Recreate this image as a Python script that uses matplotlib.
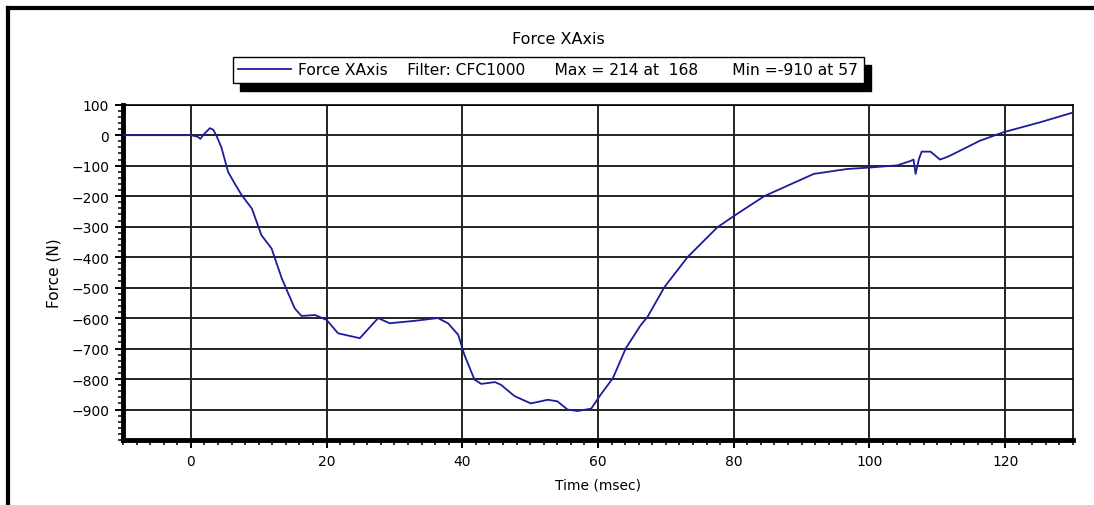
import matplotlib.pyplot as plt
from matplotlib.lines import Line2D
from matplotlib.ticker import MultipleLocator

# force trace (time in msec, force in N)
time_ms = [-10, 0, 1.0, 1.4, 2.0, 2.8, 3.3, 3.8, 4.5, 5.5, 6.5, 7.5, 9.0, 10.4, 11.9,
           13.4, 15.3, 16.3, 18.3, 20.0, 21.7, 24.9, 27.6, 29.3, 33.0, 36.4, 37.9,
           39.4, 40.3, 41.8, 42.8, 44.8, 45.7, 47.7, 50.1, 52.6, 54.0, 55.5, 57.0,
           59.0, 60.4, 62.2, 64.1, 66.3, 67.3, 69.8, 73.2, 77.6, 80.1, 84.5, 91.8,
           96.7, 100.1, 104.1, 106.0, 106.5, 106.8, 107.3, 107.7, 109.0, 110.4,
           111.4, 111.9, 116.3, 119.8, 125.1, 129.8]
force_n = [0, 0, -5, -12, 5, 23, 18, -3, -40, -121, -160, -197, -241, -328, -372,
           -470, -568, -593, -590, -606, -650, -666, -600, -617, -609, -600, -617,
           -655, -720, -802, -816, -810, -819, -856, -880, -868, -873, -900, -905,
           -897, -851, -797, -699, -623, -596, -498, -400, -302, -264, -200, -127,
           -111, -106, -99, -85, -80, -127, -78, -54, -54, -80, -72, -67,
           -18, 10, 42, 73]

legend_label = ('Force XAxis    Filter: CFC1000      Max = 214 at  168'
                '       Min =-910 at 57')

plt.rcParams['font.family'] = ['DejaVu Sans']

fig = plt.figure(figsize=(10.94, 5.06), dpi=100)
ax = fig.add_axes([123 / 1094, 1 - 441 / 506, 950 / 1094, 335.3 / 506])

ax.plot(time_ms, force_n, color='#1c1c9c', linewidth=1.3, label=legend_label, zorder=3)

ax.set_xlim(-10, 130)
ax.set_ylim(-1000, 100)
ax.xaxis.set_major_locator(MultipleLocator(20))
ax.xaxis.set_minor_locator(MultipleLocator(2))
ax.yaxis.set_major_locator(MultipleLocator(100))
ax.yaxis.set_minor_locator(MultipleLocator(20))
ax.set_yticks(range(-900, 101, 100))

ax.grid(True, which='major', color='#222222', linewidth=1.4)
ax.set_axisbelow(True)

for side in ('left', 'bottom'):
    ax.spines[side].set_linewidth(3.5)
for side in ('top', 'right'):
    ax.spines[side].set_linewidth(1.2)

ax.tick_params(which='major', length=6, width=1.4, labelsize=10, pad=4)
ax.tick_params(which='minor', length=3.5, width=1.1)

ax.set_xlabel('Time (msec)', fontsize=10, labelpad=7)
ax.set_ylabel('Force (N)', fontsize=11, labelpad=7)

fig.text(558 / 1094, 1 - 39 / 506, 'Force XAxis', ha='center', va='center', fontsize=11.5)

ax.legend(loc='upper left', bbox_to_anchor=(233 / 1094, 1 - 58 / 506),
          bbox_transform=fig.transFigure, fontsize=11.2, frameon=True,
          fancybox=False, edgecolor='black', framealpha=1, borderpad=0.35,
          borderaxespad=0, handlelength=3.4, handletextpad=0.45,
          shadow={'ox': 5, 'oy': -6, 'color': 'black', 'alpha': 1})

# outer window frame (left and top edges visible)
fig.add_artist(Line2D([8 / 1094, 8 / 1094], [0, 1 - 9 / 506], color='black',
                      linewidth=3, transform=fig.transFigure))
fig.add_artist(Line2D([8 / 1094, 1], [1 - 9 / 506, 1 - 9 / 506], color='black',
                      linewidth=3, transform=fig.transFigure))

fig.savefig('out.png', dpi=100)
